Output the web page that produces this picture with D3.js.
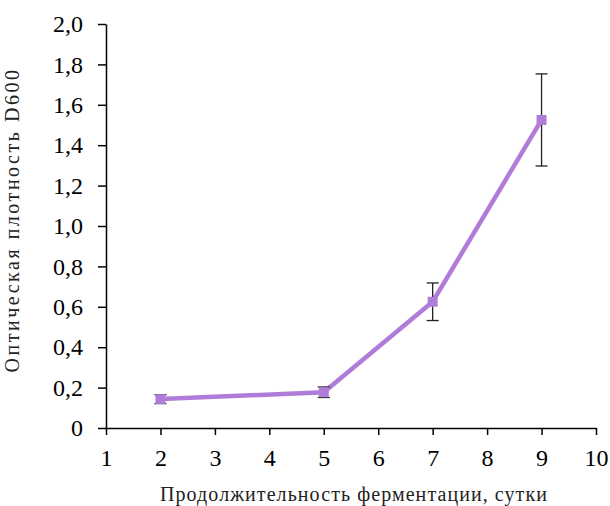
<!DOCTYPE html>
<html><head><meta charset="utf-8">
<script src="https://cdn.jsdelivr.net/npm/d3@7"></script>
<style>body{margin:0;background:#fff}svg{display:block}text{font-family:'Liberation Serif','Times New Roman',serif}</style>
</head><body>
<svg id="c" width="610" height="506"></svg>
<script>
const days = [2, 5, 7, 9];
const density = [0.143, 0.177, 0.625, 1.525];
const errors = [0.022, 0.026, 0.093, 0.228];
const xTicks = [1,2,3,4,5,6,7,8,9,10];
const yTicks = [0,0.2,0.4,0.6,0.8,1.0,1.2,1.4,1.6,1.8,2.0];
const xTitle = "Продолжительность ферментации, сутки";
const yTitle = "Оптическая плотность D600";

const svg = d3.select("#c");
const font = "'Liberation Serif','Times New Roman',serif";
const x = d3.scaleLinear().domain([1,10]).range([106,596]);
const y = d3.scaleLinear().domain([0,2]).range([428,24]);
const col = "#b07cd9";

const fmt = d => d3.format(".1f")(d).replace(".", ",");
const fmtY = d => d === 0 ? "0" : fmt(d);

const gx = svg.append("g").attr("transform","translate(0,428)")
  .call(d3.axisBottom(x).tickValues(xTicks).tickSize(7).tickSizeOuter(0).tickPadding(14).tickFormat(d3.format("d")));
const gy = svg.append("g").attr("transform","translate(106,0)")
  .call(d3.axisLeft(y).tickValues(yTicks).tickSize(8).tickSizeOuter(0).tickPadding(15).tickFormat(fmtY));
[gx,gy].forEach(g=>{
  g.attr("font-family",null).attr("font-size",null);
  g.selectAll("path,line").attr("stroke","#000").attr("stroke-width",1.5);
  g.selectAll("text").style("font-family",font).style("font-size","24px").attr("fill","#000");
});

const data = days.map((d,i)=>({x:d,y:density[i],e:errors[i]}));

svg.append("path").datum(data)
  .attr("fill","none").attr("stroke",col).attr("stroke-width",4.5)
  .attr("d", d3.line().x(d=>x(d.x)).y(d=>y(d.y)));

const eb = svg.append("g").attr("stroke","#222").attr("stroke-width",1.3);
data.forEach(d=>{
  eb.append("line").attr("x1",x(d.x)).attr("x2",x(d.x)).attr("y1",y(d.y+d.e)).attr("y2",y(d.y-d.e));
  [d.y+d.e, d.y-d.e].forEach(v=>{
    eb.append("line").attr("x1",x(d.x)-6).attr("x2",x(d.x)+6).attr("y1",y(v)).attr("y2",y(v));
  });
});

svg.append("g").selectAll("rect").data(data).join("rect")
  .attr("x",d=>x(d.x)-5).attr("y",d=>y(d.y)-5).attr("width",10).attr("height",10)
  .attr("fill",col);

function fitText(t, target){
  t.style("font-size","20px").style("letter-spacing","0px");
  const w = t.node().getComputedTextLength();
  const n = t.text().length;
  const ls = Math.max(0, (target - w) / n);
  t.style("letter-spacing", ls.toFixed(2)+"px");
}
const xt = svg.append("text").attr("x",354).attr("y",501).attr("text-anchor","middle")
  .style("font-family",font).attr("fill","#222").text(xTitle);
fitText(xt, 388);
const yt = svg.append("text").attr("transform","translate(19,220) rotate(-90)").attr("text-anchor","middle")
  .style("font-family",font).attr("fill","#222").text(yTitle);
fitText(yt, 305);
</script>
</body></html>
